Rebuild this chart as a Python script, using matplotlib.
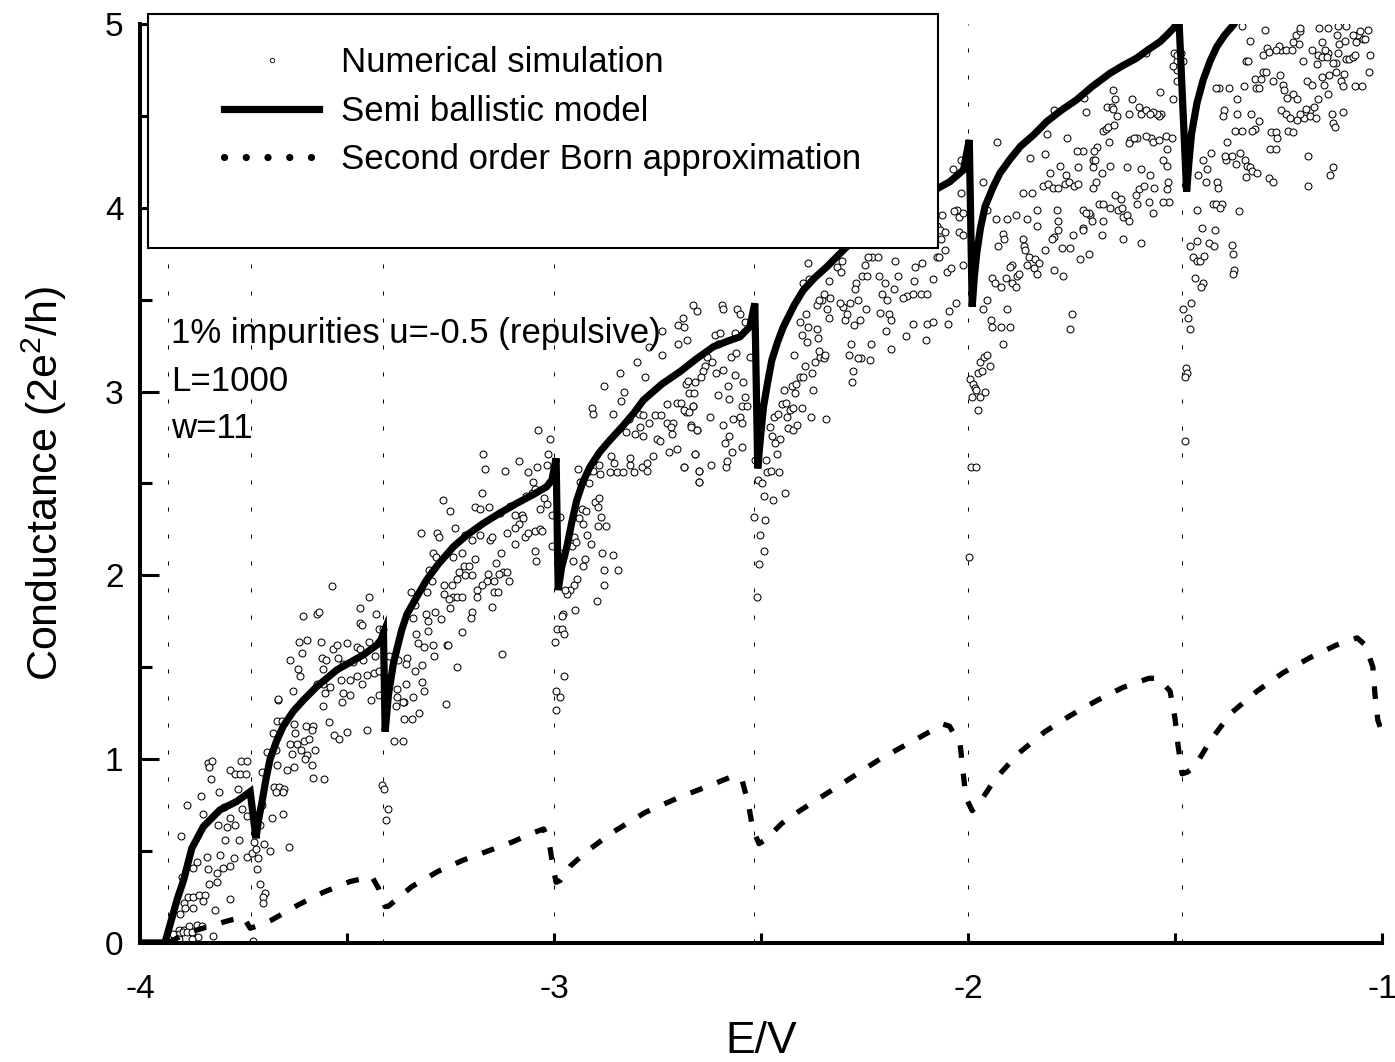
import matplotlib
matplotlib.use("Agg")
import matplotlib.pyplot as plt
from matplotlib.lines import Line2D
from matplotlib.patches import Rectangle
import numpy as np

plt.rcParams['font.family'] = ['Liberation Sans', 'DejaVu Sans']
plt.rcParams['mathtext.default'] = 'regular'
plt.rcParams['axes.unicode_minus'] = False

# subband thresholds (E/V) shown as dotted verticals
thresholds = [-3.932, -3.732, -3.414, -3.0, -2.518, -2.0, -1.482]

# semi ballistic model curve (E, G)
semi = [(-4.0, 0.0), (-3.94, 0.0), (-3.925, 0.12), (-3.91, 0.24), (-3.895, 0.34), (-3.875, 0.515),
        (-3.847, 0.633), (-3.807, 0.724), (-3.767, 0.769), (-3.734, 0.823),
        (-3.720, 0.57), (-3.713, 0.68), (-3.706, 0.76), (-3.696, 0.89), (-3.686, 1.0), (-3.670, 1.10),
        (-3.654, 1.18), (-3.630, 1.26), (-3.606, 1.32), (-3.573, 1.395), (-3.525, 1.485), (-3.49, 1.53),
        (-3.461, 1.567), (-3.428, 1.621), (-3.418, 1.65), (-3.412, 1.685),
        (-3.408, 1.15), (-3.400, 1.35), (-3.388, 1.522), (-3.368, 1.703), (-3.355, 1.79), (-3.340, 1.85),
        (-3.308, 1.975), (-3.28, 2.06), (-3.243, 2.156), (-3.21, 2.22), (-3.171, 2.283), (-3.13, 2.34),
        (-3.090, 2.392), (-3.05, 2.44), (-3.018, 2.482), (-3.005, 2.52), (-2.995, 2.637),
        (-2.990, 1.92), (-2.982, 2.04), (-2.969, 2.156), (-2.957, 2.29), (-2.945, 2.41), (-2.93, 2.51),
        (-2.913, 2.591), (-2.89, 2.67), (-2.865, 2.736), (-2.835, 2.81), (-2.808, 2.881), (-2.784, 2.954),
        (-2.74, 3.04), (-2.696, 3.108), (-2.655, 3.18), (-2.615, 3.244), (-2.58, 3.275), (-2.551, 3.298),
        (-2.527, 3.353), (-2.515, 3.48),
        (-2.508, 2.582), (-2.501, 2.76), (-2.494, 2.918), (-2.484, 3.05), (-2.474, 3.171), (-2.46, 3.27),
        (-2.446, 3.353), (-2.42, 3.47), (-2.398, 3.552), (-2.37, 3.62), (-2.341, 3.679), (-2.293, 3.788),
        (-2.20, 3.95), (-2.13, 4.04), (-2.080, 4.097), (-2.044, 4.142), (-2.011, 4.206), (-1.997, 4.369),
        (-1.990, 3.462), (-1.985, 3.62), (-1.979, 3.752), (-1.970, 3.89), (-1.959, 4.006), (-1.94, 4.11),
        (-1.923, 4.188), (-1.90, 4.26), (-1.874, 4.333), (-1.84, 4.40), (-1.810, 4.469), (-1.775, 4.53),
        (-1.738, 4.587), (-1.70, 4.66), (-1.657, 4.732), (-1.625, 4.775), (-1.593, 4.814), (-1.565, 4.86),
        (-1.536, 4.904), (-1.515, 4.95), (-1.500, 4.986), (-1.492, 5.1),
        (-1.472, 4.088), (-1.466, 4.26), (-1.460, 4.405), (-1.447, 4.57), (-1.432, 4.696), (-1.415, 4.80),
        (-1.399, 4.877), (-1.38, 4.94), (-1.359, 4.995), (-1.33, 5.1)]

# second order Born approximation (E, G)
born = [(-3.932, 0.0), (-3.90, 0.04), (-3.863, 0.07), (-3.82, 0.10), (-3.78, 0.125), (-3.75, 0.14),
        (-3.734, 0.08), (-3.72, 0.09), (-3.682, 0.125), (-3.618, 0.207), (-3.557, 0.276),
        (-3.493, 0.334), (-3.44, 0.361), (-3.424, 0.297), (-3.408, 0.198), (-3.40, 0.20),
        (-3.344, 0.306), (-3.28, 0.39), (-3.22, 0.45), (-3.16, 0.50), (-3.10, 0.55), (-3.05, 0.60),
        (-3.025, 0.62), (-3.012, 0.55), (-3.003, 0.42), (-2.995, 0.33), (-2.985, 0.34),
        (-2.96, 0.42), (-2.92, 0.50), (-2.86, 0.60), (-2.78, 0.71), (-2.70, 0.79), (-2.62, 0.86),
        (-2.565, 0.91), (-2.545, 0.88), (-2.53, 0.75), (-2.52, 0.62), (-2.505, 0.54), (-2.49, 0.56),
        (-2.45, 0.65), (-2.406, 0.72), (-2.309, 0.86), (-2.213, 1.00), (-2.116, 1.12), (-2.06, 1.19),
        (-2.045, 1.18), (-2.019, 1.08), (-2.012, 0.93), (-2.005, 0.79), (-1.99, 0.72), (-1.976, 0.75),
        (-1.935, 0.89), (-1.879, 1.03), (-1.814, 1.15), (-1.751, 1.24), (-1.688, 1.32), (-1.626, 1.39),
        (-1.563, 1.44), (-1.54, 1.44), (-1.512, 1.37), (-1.500, 1.22), (-1.493, 1.08), (-1.483, 0.92),
        (-1.47, 0.93), (-1.452, 0.96), (-1.415, 1.10), (-1.365, 1.25), (-1.302, 1.37), (-1.239, 1.47),
        (-1.176, 1.55), (-1.111, 1.62), (-1.06, 1.66), (-1.04, 1.62), (-1.022, 1.50), (-1.017, 1.35),
        (-1.010, 1.21), (-1.0, 1.15)]

# numerical simulation points (E, G), read region by region
sim_left = [(-3.837, 0.40), (-3.813, 0.38), (-3.718, 0.40), (-3.833, 0.32), (-3.813, 0.33), (-3.710, 0.32),
            (-3.883, 0.25), (-3.871, 0.25), (-3.857, 0.26), (-3.843, 0.26), (-3.847, 0.23), (-3.783, 0.24),
            (-3.698, 0.27), (-3.702, 0.25), (-3.704, 0.22), (-3.895, 0.22), (-3.891, 0.19), (-3.871, 0.19),
            (-3.903, 0.16), (-3.819, 0.18), (-3.905, 0.07), (-3.894, 0.07), (-3.881, 0.09), (-3.863, 0.10),
            (-3.851, 0.09), (-3.907, 0.05), (-3.897, 0.06), (-3.887, 0.06), (-3.875, 0.06), (-3.920, 0.05),
            (-3.859, 0.03), (-3.875, 0.02), (-3.907, 0.02), (-3.824, 0.04), (-3.726, 0.01),
            (-3.666, 1.32), (-3.559, 1.29), (-3.512, 1.31), (-3.443, 1.32), (-3.382, 1.29), (-3.362, 1.31),
            (-3.327, 1.25), (-3.362, 1.22), (-3.344, 1.22), (-3.386, 1.10), (-3.364, 1.10), (-3.670, 1.21),
            (-3.658, 1.21), (-3.628, 1.19), (-3.599, 1.18), (-3.583, 1.18), (-3.585, 1.16), (-3.543, 1.20),
            (-3.531, 1.13), (-3.519, 1.11), (-3.501, 1.15), (-3.451, 1.16), (-3.678, 1.14), (-3.626, 1.14),
            (-3.638, 1.08), (-3.621, 1.08), (-3.605, 1.10), (-3.591, 1.11), (-3.577, 1.05), (-3.612, 1.05),
            (-3.634, 1.03), (-3.694, 1.04), (-3.671, 1.05), (-3.597, 1.02), (-3.601, 1.00), (-3.585, 0.97),
            (-3.628, 0.96), (-3.646, 0.94), (-3.670, 0.97), (-3.706, 0.93), (-3.583, 0.90), (-3.555, 0.89),
            (-3.837, 0.98), (-3.827, 0.99), (-3.833, 0.96), (-3.757, 0.99), (-3.741, 0.99), (-3.783, 0.94),
            (-3.770, 0.92), (-3.758, 0.92), (-3.744, 0.92), (-3.829, 0.89), (-3.763, 0.84), (-3.809, 0.82),
            (-3.853, 0.80), (-3.887, 0.75), (-3.797, 0.74), (-3.847, 0.70), (-3.811, 0.64), (-3.791, 0.63),
            (-3.771, 0.64), (-3.783, 0.68), (-3.742, 0.69), (-3.754, 0.73), (-3.706, 0.75), (-3.710, 0.64),
            (-3.682, 0.68), (-3.655, 0.70), (-3.676, 0.85), (-3.664, 0.85), (-3.652, 0.84), (-3.655, 0.82),
            (-3.671, 0.82), (-3.901, 0.58), (-3.839, 0.47), (-3.796, 0.56), (-3.760, 0.56), (-3.808, 0.48),
            (-3.773, 0.46), (-3.742, 0.47), (-3.730, 0.49), (-3.720, 0.51), (-3.725, 0.55), (-3.700, 0.54),
            (-3.686, 0.50), (-3.641, 0.52), (-3.714, 0.46), (-3.863, 0.44), (-3.799, 0.41), (-3.783, 0.42),
            (-3.871, 0.41), (-3.899, 0.36), (-3.416, 0.86), (-3.411, 0.84), (-3.400, 0.73), (-3.406, 0.67)]

sim_mid_left = [(-3.537, 1.94), (-3.448, 1.88), (-3.469, 1.82), (-3.430, 1.79), (-3.607, 1.78), (-3.572, 1.79),
                (-3.567, 1.80), (-3.469, 1.74), (-3.465, 1.73), (-3.424, 1.71), (-3.412, 1.71), (-3.615, 1.64),
                (-3.596, 1.65), (-3.564, 1.64), (-3.499, 1.63), (-3.535, 1.60), (-3.525, 1.62), (-3.475, 1.61),
                (-3.469, 1.60), (-3.446, 1.64), (-3.609, 1.58), (-3.639, 1.54), (-3.561, 1.55), (-3.551, 1.54),
                (-3.521, 1.55), (-3.618, 1.49), (-3.614, 1.45), (-3.557, 1.49), (-3.509, 1.52), (-3.486, 1.53),
                (-3.461, 1.54), (-3.432, 1.56), (-3.515, 1.43), (-3.493, 1.43), (-3.477, 1.45), (-3.465, 1.41),
                (-3.452, 1.46), (-3.435, 1.47), (-3.422, 1.48), (-3.559, 1.41), (-3.541, 1.39), (-3.573, 1.41),
                (-3.631, 1.37), (-3.666, 1.33), (-3.553, 1.36), (-3.509, 1.36), (-3.493, 1.35), (-3.424, 1.35),
                (-3.322, 2.23), (-3.283, 2.23), (-3.279, 2.21), (-3.293, 2.12), (-3.285, 2.10), (-3.301, 2.03),
                (-3.295, 1.97), (-3.346, 1.91), (-3.308, 1.91), (-3.267, 1.95), (-3.267, 1.90), (-3.336, 1.84),
                (-3.340, 1.77), (-3.309, 1.79), (-3.287, 1.80), (-3.304, 1.75), (-3.274, 1.76), (-3.333, 1.68),
                (-3.305, 1.70), (-3.328, 1.63), (-3.314, 1.61), (-3.293, 1.62), (-3.258, 1.62), (-3.289, 1.56),
                (-3.398, 1.56), (-3.376, 1.54), (-3.354, 1.55), (-3.357, 1.52), (-3.336, 1.48), (-3.318, 1.51),
                (-3.357, 1.41), (-3.320, 1.42), (-3.314, 1.37), (-3.341, 1.34), (-3.380, 1.38), (-3.380, 1.34),
                (-3.366, 1.31), (-3.261, 1.30)]

sim_mid = [(-2.909, 2.91), (-2.907, 2.88), (-2.839, 2.95), (-2.728, 2.93), (-2.702, 2.94), (-2.681, 2.89),
           (-2.665, 2.92), (-2.857, 2.88), (-2.820, 2.85), (-2.796, 2.88), (-2.784, 2.87), (-2.770, 2.83),
           (-2.792, 2.81), (-2.756, 2.87), (-2.742, 2.87), (-2.728, 2.83), (-2.712, 2.83), (-2.718, 2.81),
           (-2.668, 2.82), (-2.655, 2.79), (-3.038, 2.79), (-3.010, 2.74), (-2.825, 2.78), (-2.804, 2.77),
           (-2.786, 2.76), (-2.716, 2.77), (-2.752, 2.74), (-2.744, 2.73), (-2.722, 2.67), (-2.702, 2.69),
           (-2.660, 2.66), (-2.686, 2.59), (-2.651, 2.57), (-2.651, 2.51), (-3.171, 2.66), (-3.167, 2.58),
           (-3.084, 2.62), (-3.040, 2.59), (-3.062, 2.56), (-3.052, 2.51), (-3.014, 2.66), (-3.018, 2.60),
           (-2.941, 2.58), (-2.915, 2.57), (-2.891, 2.60), (-2.905, 2.57), (-2.889, 2.55), (-2.866, 2.56),
           (-2.847, 2.56), (-2.833, 2.56), (-2.816, 2.60), (-2.808, 2.56), (-2.788, 2.59), (-2.775, 2.57),
           (-2.775, 2.61), (-2.760, 2.65), (-2.816, 2.64), (-2.855, 2.61), (-2.863, 2.65), (-3.173, 2.45),
           (-3.118, 2.57), (-3.269, 2.41), (-3.251, 2.35), (-3.191, 2.37), (-3.179, 2.36), (-3.156, 2.37),
           (-3.130, 2.34), (-3.106, 2.38), (-3.094, 2.33), (-3.078, 2.33), (-3.076, 2.31), (-3.084, 2.28),
           (-3.094, 2.26), (-3.054, 2.45), (-3.046, 2.47), (-3.068, 2.43), (-3.024, 2.42), (-3.018, 2.39),
           (-3.034, 2.36), (-3.006, 2.33), (-2.937, 2.51), (-2.915, 2.50), (-2.933, 2.36), (-2.939, 2.31),
           (-2.923, 2.35), (-2.901, 2.40), (-2.895, 2.37), (-2.895, 2.27), (-2.875, 2.27), (-2.887, 2.32),
           (-2.891, 2.42), (-2.911, 2.17), (-2.885, 2.12), (-2.857, 2.11), (-2.845, 2.03), (-2.879, 2.03),
           (-2.879, 1.95), (-2.897, 1.86), (-2.931, 2.05), (-2.925, 2.09), (-2.929, 2.28), (-2.921, 2.22),
           (-2.952, 2.21), (-2.957, 2.16), (-2.947, 2.18), (-2.955, 2.08), (-2.949, 1.81), (-2.945, 1.98),
           (-2.953, 1.95), (-2.961, 1.92), (-2.969, 1.90), (-2.973, 1.92), (-3.239, 2.26), (-3.215, 2.22),
           (-3.199, 2.19), (-3.179, 2.22), (-3.155, 2.19), (-3.151, 2.21), (-3.114, 2.23), (-3.094, 2.17),
           (-3.070, 2.21), (-3.062, 2.23), (-3.046, 2.24), (-3.034, 2.25), (-3.030, 2.24), (-3.006, 2.16),
           (-2.986, 2.12), (-2.986, 2.32), (-3.046, 2.13), (-3.043, 2.08), (-3.245, 2.10), (-3.223, 2.12),
           (-3.191, 2.09), (-3.217, 2.05), (-3.205, 2.05), (-3.197, 2.00), (-3.215, 2.00), (-3.229, 2.02),
           (-3.235, 1.98), (-3.129, 2.12), (-3.140, 2.07), (-3.124, 2.02), (-3.114, 2.02), (-3.134, 2.01),
           (-3.110, 1.97), (-3.159, 2.01), (-3.161, 1.97), (-3.175, 1.95), (-3.185, 1.92), (-3.187, 1.88),
           (-3.145, 1.97), (-3.145, 1.91), (-3.136, 1.91), (-3.151, 1.83), (-3.247, 1.95), (-3.243, 1.88),
           (-3.234, 1.88), (-3.223, 1.88), (-3.253, 1.87), (-3.251, 1.82), (-3.199, 1.80), (-3.201, 1.77),
           (-3.223, 1.69), (-3.255, 1.62), (-3.126, 1.57), (-3.234, 1.50), (-2.994, 1.71), (-2.981, 1.71),
           (-2.976, 1.68), (-2.998, 1.64), (-2.979, 1.79), (-2.981, 1.78), (-2.977, 1.45), (-2.995, 1.37),
           (-2.986, 1.34), (-2.995, 1.27),
           (-2.664, 3.47), (-2.655, 3.44), (-2.70, 3.36), (-2.74, 3.33), (-2.77, 3.24), (-2.80, 3.16),
           (-2.84, 3.10), (-2.88, 3.03), (-2.74, 3.20), (-2.78, 3.08), (-2.83, 3.00), (-2.70, 3.26)]

sim_mid_right = [(-2.689, 3.40), (-2.686, 3.35), (-2.678, 3.28), (-2.595, 3.47), (-2.593, 3.45), (-2.557, 3.45),
                 (-2.552, 3.42), (-2.539, 3.38), (-2.563, 3.32), (-2.611, 3.31), (-2.599, 3.32), (-2.603, 3.26),
                 (-2.519, 3.42), (-2.527, 3.19), (-2.573, 3.19), (-2.560, 3.21), (-2.631, 3.19), (-2.619, 3.16),
                 (-2.635, 3.14), (-2.641, 3.11), (-2.659, 3.05), (-2.646, 3.08), (-2.681, 3.04), (-2.676, 3.06),
                 (-2.673, 2.99), (-2.662, 2.99), (-2.694, 2.94), (-2.686, 2.90), (-2.673, 2.89), (-2.665, 2.92),
                 (-2.609, 3.10), (-2.593, 3.12), (-2.563, 3.09), (-2.603, 2.98), (-2.579, 3.03), (-2.543, 3.05),
                 (-2.577, 2.96), (-2.539, 2.97), (-2.547, 2.92), (-2.535, 2.92), (-2.668, 2.81), (-2.654, 2.79),
                 (-2.623, 2.86), (-2.591, 2.82), (-2.568, 2.85), (-2.551, 2.86), (-2.547, 2.83), (-2.587, 2.72),
                 (-2.577, 2.76), (-2.571, 2.67), (-2.545, 2.70), (-2.659, 2.66), (-2.686, 2.59), (-2.649, 2.57),
                 (-2.649, 2.51), (-2.622, 2.60), (-2.585, 2.59), (-2.583, 2.62), (-2.515, 2.63), (-2.508, 2.52),
                 (-2.498, 2.50), (-2.488, 2.63), (-2.485, 2.56), (-2.477, 2.57), (-2.457, 2.56), (-2.494, 2.43),
                 (-2.470, 2.41), (-2.442, 2.45), (-2.517, 2.32), (-2.490, 2.30), (-2.502, 2.22), (-2.493, 2.13),
                 (-2.506, 2.06), (-2.510, 1.88),
                 (-2.478, 2.81), (-2.474, 2.76), (-2.454, 2.74), (-2.466, 2.72), (-2.462, 2.66), (-2.469, 2.86),
                 (-2.458, 2.88), (-2.450, 2.93), (-2.440, 2.94), (-2.438, 2.86), (-2.430, 2.90), (-2.422, 2.91),
                 (-2.436, 2.80), (-2.422, 2.79), (-2.412, 2.82), (-2.380, 2.86), (-2.343, 2.85), (-2.402, 2.91),
                 (-2.444, 3.01), (-2.426, 3.03), (-2.416, 3.04), (-2.418, 2.99), (-2.406, 3.08), (-2.398, 3.08),
                 (-2.375, 3.01), (-2.378, 3.10), (-2.394, 3.14), (-2.370, 3.16), (-2.358, 3.19), (-2.359, 3.22),
                 (-2.348, 3.18), (-2.345, 3.20), (-2.420, 3.20), (-2.406, 3.38), (-2.402, 3.31), (-2.390, 3.27),
                 (-2.386, 3.35), (-2.391, 3.42), (-2.364, 3.34), (-2.362, 3.29), (-2.366, 3.47), (-2.353, 3.50),
                 (-2.341, 3.45), (-2.337, 3.40), (-2.333, 3.51), (-2.386, 3.70), (-2.398, 3.59), (-2.383, 3.61),
                 (-2.359, 3.50), (-2.349, 3.53), (-2.316, 3.68), (-2.306, 3.65), (-2.305, 3.71), (-2.337, 3.60),
                 (-2.281, 3.05), (-2.279, 3.11), (-2.287, 3.20), (-2.283, 3.26), (-2.259, 3.18), (-2.265, 3.18),
                 (-2.237, 3.17), (-2.235, 3.26), (-2.297, 3.39), (-2.275, 3.36), (-2.293, 3.42), (-2.303, 3.46),
                 (-2.309, 3.48), (-2.285, 3.48), (-2.271, 3.59), (-2.273, 3.56), (-2.265, 3.50), (-2.261, 3.39),
                 (-2.246, 3.45), (-2.255, 3.63), (-2.245, 3.63), (-2.249, 3.69), (-2.233, 3.73), (-2.241, 3.73),
                 (-2.217, 3.73), (-2.214, 3.63), (-2.200, 3.59), (-2.176, 3.71), (-2.168, 3.63), (-2.179, 3.56),
                 (-2.209, 3.53), (-2.195, 3.50), (-2.213, 3.43), (-2.190, 3.42), (-2.185, 3.39), (-2.198, 3.33),
                 (-2.185, 3.23), (-2.148, 3.52), (-2.156, 3.51), (-2.134, 3.53), (-2.130, 3.60), (-2.114, 3.53),
                 (-2.098, 3.53), (-2.128, 3.68), (-2.112, 3.70), (-2.132, 3.37), (-2.100, 3.37), (-2.150, 3.30),
                 (-2.102, 3.28),
                 (-1.995, 3.07), (-1.987, 3.04), (-1.983, 3.02), (-1.981, 3.01), (-1.990, 2.97), (-1.971, 2.97),
                 (-1.959, 3.00), (-1.975, 2.90), (-1.975, 3.10), (-1.967, 3.11), (-1.971, 3.16), (-1.961, 3.19),
                 (-1.953, 3.20), (-1.947, 3.14), (-1.994, 2.59), (-1.981, 2.59), (-1.997, 2.10), (-1.916, 3.26)]

sim_right_low = [(-1.464, 3.79), (-1.448, 3.82), (-1.419, 3.81), (-1.406, 3.79), (-1.363, 3.80), (-1.361, 3.75),
                 (-1.457, 3.73), (-1.448, 3.71), (-1.440, 3.71), (-1.430, 3.74), (-1.357, 3.66), (-1.359, 3.64),
                 (-1.452, 3.62), (-1.432, 3.59), (-1.438, 3.57), (-1.462, 3.48), (-1.480, 3.45), (-1.468, 3.40),
                 (-1.465, 3.34), (-1.473, 3.13), (-1.470, 3.10), (-1.476, 3.08), (-1.477, 2.73)]

sim_right = [(-2.037, 4.21), (-2.018, 4.26), (-2.018, 4.08), (-2.027, 3.99), (-2.034, 3.98), (-2.023, 3.95),
             (-2.011, 3.97), (-2.064, 3.96), (-2.076, 3.90), (-2.068, 3.88), (-2.056, 3.87), (-2.066, 3.83),
             (-2.056, 3.77), (-2.076, 3.73), (-2.069, 3.73), (-2.021, 3.87), (-2.013, 3.85), (-2.011, 3.69),
             (-2.085, 3.61), (-2.052, 3.65), (-2.040, 3.67), (-2.029, 3.48), (-2.045, 3.44), (-2.048, 3.37),
             (-2.085, 3.38),
             (-1.963, 4.14), (-1.931, 4.36), (-1.955, 3.99), (-1.932, 3.94), (-1.905, 3.94), (-1.884, 3.96),
             (-1.915, 3.86), (-1.913, 3.83), (-1.927, 3.79), (-1.895, 3.69), (-1.899, 3.68), (-1.943, 3.62),
             (-1.935, 3.59), (-1.921, 3.57), (-1.908, 3.62), (-1.895, 3.59), (-1.881, 3.63), (-1.876, 3.64),
             (-1.884, 3.57), (-1.965, 3.45), (-1.953, 3.50), (-1.907, 3.45), (-1.945, 3.39), (-1.943, 3.35),
             (-1.921, 3.35), (-1.899, 3.35), (-1.750, 3.42), (-1.754, 3.34),
             (-1.868, 4.08), (-1.846, 4.08), (-1.857, 3.94), (-1.834, 3.99), (-1.833, 3.90), (-1.820, 4.12),
             (-1.808, 4.13), (-1.794, 4.11), (-1.782, 4.11), (-1.766, 4.13), (-1.755, 4.14), (-1.744, 4.12),
             (-1.734, 4.13), (-1.763, 4.18), (-1.778, 4.23), (-1.802, 4.19), (-1.786, 3.99), (-1.782, 3.93),
             (-1.782, 3.88), (-1.792, 3.84), (-1.798, 3.83), (-1.773, 3.78), (-1.754, 3.78), (-1.814, 3.77),
             (-1.868, 3.83), (-1.865, 3.79), (-1.862, 3.77), (-1.852, 3.73), (-1.858, 3.69), (-1.838, 3.72),
             (-1.828, 3.70), (-1.841, 3.67), (-1.834, 3.64), (-1.792, 3.66), (-1.771, 3.63), (-1.730, 3.72),
             (-1.709, 3.75), (-1.746, 3.85), (-1.722, 3.89), (-1.723, 3.88), (-1.722, 3.99), (-1.705, 3.96),
             (-1.709, 3.97), (-1.701, 3.93), (-1.715, 3.97), (-1.675, 3.93), (-1.677, 3.85), (-1.697, 4.11),
             (-1.691, 4.14), (-1.699, 4.22), (-1.697, 4.26), (-1.677, 4.19), (-1.683, 4.02), (-1.673, 4.02),
             (-1.657, 4.23), (-1.657, 4.00), (-1.625, 3.83), (-1.637, 3.99), (-1.631, 4.05), (-1.625, 3.95),
             (-1.617, 3.96), (-1.629, 4.00), (-1.610, 3.93), (-1.645, 4.07), (-1.617, 4.22), (-1.586, 4.10),
             (-1.582, 4.21), (-1.594, 4.07), (-1.575, 4.12), (-1.591, 4.02), (-1.561, 4.18), (-1.552, 4.11),
             (-1.582, 3.81), (-1.564, 4.03), (-1.554, 3.97), (-1.528, 4.26), (-1.516, 4.14), (-1.519, 4.10),
             (-1.514, 4.03), (-1.528, 4.03), (-1.520, 4.23),
             (-1.581, 4.51), (-1.557, 4.38), (-1.570, 4.39), (-1.591, 4.38), (-1.609, 4.37), (-1.599, 4.38),
             (-1.610, 4.35), (-1.605, 4.59), (-1.586, 4.55), (-1.569, 4.53), (-1.610, 4.51), (-1.651, 4.64),
             (-1.645, 4.59), (-1.664, 4.55), (-1.653, 4.55), (-1.649, 4.54), (-1.641, 4.50), (-1.673, 4.42),
             (-1.667, 4.43), (-1.661, 4.44), (-1.647, 4.45), (-1.659, 4.36), (-1.689, 4.33), (-1.693, 4.26),
             (-1.696, 4.31), (-1.722, 4.31), (-1.738, 4.31), (-1.734, 4.22), (-1.715, 4.52), (-1.720, 4.60),
             (-1.762, 4.38), (-1.792, 4.53), (-1.810, 4.40), (-1.814, 4.29), (-1.850, 4.27),
             (-1.536, 4.63), (-1.535, 4.51), (-1.538, 4.50), (-1.543, 4.51), (-1.554, 4.52), (-1.561, 4.51),
             (-1.554, 4.36), (-1.538, 4.37), (-1.522, 4.39), (-1.519, 4.32), (-1.508, 4.38), (-1.506, 4.59),
             (-1.503, 4.84), (-1.496, 4.80), (-1.495, 4.75), (-1.496, 4.69), (-1.495, 4.83), (-1.486, 4.84),
             (-1.506, 4.77), (-1.480, 4.80), (-1.569, 4.84),
             (-1.448, 3.99), (-1.434, 3.89), (-1.404, 3.88), (-1.409, 4.02), (-1.401, 4.02), (-1.387, 4.02),
             (-1.391, 4.00), (-1.345, 3.98), (-1.444, 4.18), (-1.424, 4.14), (-1.422, 4.21), (-1.398, 4.14),
             (-1.396, 4.11), (-1.433, 4.26), (-1.412, 4.30), (-1.374, 4.36), (-1.377, 4.26), (-1.379, 4.28),
             (-1.363, 4.28), (-1.353, 4.24), (-1.342, 4.30), (-1.331, 4.26), (-1.327, 4.23), (-1.319, 4.22),
             (-1.313, 4.20), (-1.303, 4.19), (-1.329, 4.17), (-1.272, 4.16), (-1.264, 4.14), (-1.178, 4.28),
             (-1.178, 4.12), (-1.126, 4.18), (-1.118, 4.22),
             (-1.393, 4.65), (-1.369, 4.65), (-1.401, 4.65), (-1.382, 4.53), (-1.385, 4.50), (-1.350, 4.51),
             (-1.351, 4.59), (-1.334, 4.66), (-1.355, 4.42), (-1.339, 4.42), (-1.317, 4.51), (-1.297, 4.47),
             (-1.307, 4.43), (-1.313, 4.42), (-1.269, 4.41), (-1.255, 4.41), (-1.253, 4.38), (-1.271, 4.32),
             (-1.255, 4.32), (-1.226, 4.42), (-1.214, 4.41),
             (-1.329, 4.80), (-1.323, 4.80), (-1.305, 4.65), (-1.307, 4.70), (-1.297, 4.65), (-1.288, 4.74),
             (-1.293, 4.70), (-1.280, 4.74), (-1.263, 4.69), (-1.247, 4.72), (-1.239, 4.67), (-1.237, 4.64),
             (-1.229, 4.60), (-1.216, 4.62), (-1.206, 4.59), (-1.245, 4.53), (-1.231, 4.51), (-1.222, 4.49),
             (-1.206, 4.48), (-1.189, 4.49), (-1.197, 4.51), (-1.174, 4.53), (-1.184, 4.54), (-1.173, 4.50),
             (-1.160, 4.49), (-1.165, 4.55), (-1.154, 4.59), (-1.181, 4.69), (-1.168, 4.67), (-1.190, 4.80),
             (-1.158, 4.78), (-1.144, 4.71), (-1.140, 4.67), (-1.130, 4.62), (-1.122, 4.51), (-1.118, 4.46),
             (-1.114, 4.44), (-1.095, 4.52), (-1.127, 4.72), (-1.111, 4.74), (-1.100, 4.69), (-1.092, 4.73),
             (-1.094, 4.66), (-1.065, 4.66), (-1.049, 4.66), (-1.111, 4.79), (-1.106, 4.84), (-1.118, 4.79),
             (-1.130, 4.84), (-1.138, 4.86), (-1.154, 4.83), (-1.144, 4.90), (-1.144, 4.82), (-1.132, 4.82),
             (-1.170, 4.86), (-1.208, 4.94), (-1.200, 4.89), (-1.197, 4.96), (-1.243, 4.86), (-1.248, 4.88),
             (-1.255, 4.86), (-1.277, 4.87), (-1.287, 4.83), (-1.272, 4.85), (-1.232, 4.86), (-1.218, 4.86),
             (-1.216, 4.90), (-1.108, 4.94), (-1.103, 4.89), (-1.089, 4.91), (-1.087, 4.81), (-1.079, 4.81),
             (-1.069, 4.82), (-1.065, 4.83), (-1.063, 4.90), (-1.057, 4.94), (-1.053, 4.96), (-1.047, 4.92),
             (-1.041, 4.92), (-1.033, 4.97), (-1.028, 4.83), (-1.031, 4.74), (-1.086, 4.99), (-1.071, 4.94),
             (-1.106, 4.99), (-1.130, 4.98), (-1.152, 4.98), (-1.197, 4.98), (-1.283, 4.97), (-1.339, 4.99),
             (-1.319, 4.91)]

legend_labels = ["Numerical simulation", "Semi ballistic model", "Second order Born approximation"]
info_lines = ["1% impurities u=-0.5 (repulsive)", "L=1000", "w=11"]
info_y = [3.263, 3.003, 2.746]

fig = plt.figure(figsize=(13.95, 10.62), dpi=100)
ax = fig.add_axes([0.1004, 0.1121, 0.8903, 0.8653])

for t in thresholds:
    ax.axvline(t, color='black', lw=0.72, ls=(0, (4, 23)), zorder=1)

sim = np.array(sim_left + sim_mid_left + sim_mid + sim_mid_right + sim_right_low + sim_right)
ax.plot(sim[:, 0], sim[:, 1], 'o', ms=5.0, mfc='white', mec='black', mew=0.75, zorder=2)

semi_arr = np.array(semi)
ax.plot(semi_arr[:, 0], semi_arr[:, 1], color='black', lw=5.2, solid_joinstyle='miter', zorder=3)

born_arr = np.array(born)
ax.plot(born_arr[:, 0], born_arr[:, 1], color='black', lw=3.8, ls=(0, (2.4, 3.0)),
        dash_capstyle='butt', zorder=3)

ax.set_xlim(-4, -1)
ax.set_ylim(0, 5)
ax.set_xticks([-4, -3, -2, -1])
ax.set_xticks([-3.5, -2.5, -1.5], minor=True)
ax.set_yticks([0, 1, 2, 3, 4, 5])
ax.set_yticks([0.5, 1.5, 2.5, 3.5, 4.5], minor=True)
ax.set_xticklabels(['-4', '-3', '-2', '-1'])
ax.tick_params(axis='x', which='both', direction='in', length=7, width=2.2, labelsize=24, pad=22)
ax.tick_params(axis='y', which='major', direction='in', length=14, width=2.2, labelsize=24, pad=12)
ax.tick_params(axis='y', which='minor', direction='in', length=8.5, width=2.2)
for s in ['top', 'right']:
    ax.spines[s].set_visible(False)
for s in ['left', 'bottom']:
    ax.spines[s].set_linewidth(2.9)

ax.set_xlabel('E/V', fontsize=32)
ax.xaxis.set_label_coords(0.5, -0.085)
ax.set_ylabel('Conductance (2e$^2$/h)', fontsize=31)
ax.yaxis.set_label_coords(-0.057, 0.5)

for line, yv in zip(info_lines, info_y):
    ax.text(-3.926, yv, line, fontsize=25, va='baseline', ha='left', zorder=4)

# legend box
box = Rectangle((0.0064, 0.7563), 0.636, 0.2546, transform=ax.transAxes, facecolor='white',
                edgecolor='black', lw=1.5, clip_on=False, zorder=10)
ax.add_patch(box)
handles = [Line2D([], [], marker='o', ls='none', ms=3.2, mfc='white', mec='black', mew=0.6),
           Line2D([], [], color='black', lw=5.2),
           Line2D([], [], color='black', lw=5.2, ls=(0, (0.01, 3.0)), dash_capstyle='round')]
leg = ax.legend(handles, legend_labels, loc='upper left', bbox_to_anchor=(0.0676, 0.976),
                frameon=False, fontsize=25, handlelength=2.74, handletextpad=0.63,
                labelspacing=0.45, borderpad=0, borderaxespad=0, numpoints=1)
leg.set_zorder(11)

fig.savefig('out.png', dpi=100)
